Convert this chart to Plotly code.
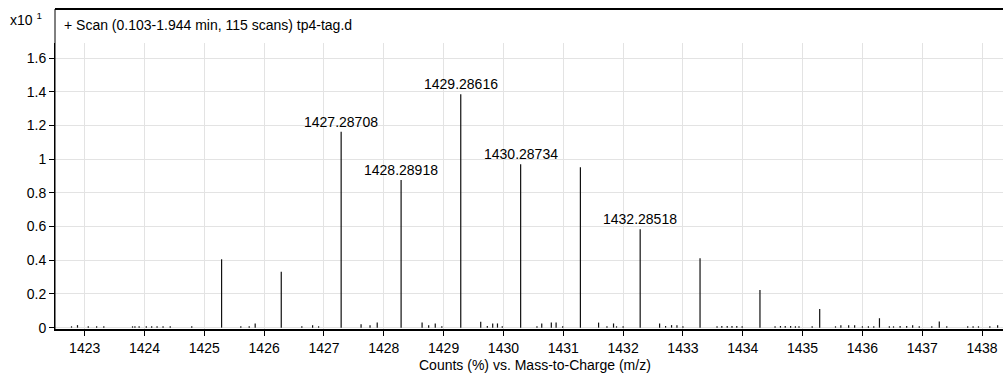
import plotly.graph_objects as go

# Labelled isotope peaks (m/z, intensity in units of 10^1 counts %)
labeled_mz = [1427.28708, 1428.28918, 1429.28616, 1430.28734, 1432.28518]
labeled_int = [1.163, 0.877, 1.385, 0.970, 0.584]

# Other major peaks without labels
other_mz = [1425.2885, 1426.2860, 1431.2862, 1433.2860, 1434.2875, 1435.2860, 1436.2850, 1437.2850]
other_int = [0.406, 0.332, 0.952, 0.412, 0.224, 0.111, 0.056, 0.036]

# Baseline noise peaks
noise_mz = [1422.78, 1422.88, 1423.06, 1423.20, 1423.32, 1423.80, 1423.84, 1423.91,
            1424.03, 1424.12, 1424.21, 1424.31, 1424.43, 1424.79, 1425.61, 1425.75,
            1425.85, 1426.63, 1426.81, 1426.91, 1427.62, 1427.77, 1427.89, 1428.64,
            1428.75, 1428.86, 1428.97, 1429.62, 1429.73, 1429.82, 1429.90, 1429.98,
            1430.56, 1430.64, 1430.80, 1430.88, 1430.99, 1431.59, 1431.73, 1431.84,
            1431.89, 1432.00, 1432.61, 1432.71, 1432.81, 1432.90, 1433.00, 1433.57,
            1433.65, 1433.74, 1433.82, 1433.90, 1433.99, 1434.54, 1434.63, 1434.71,
            1434.80, 1434.88, 1434.94, 1435.16, 1435.55, 1435.64, 1435.77, 1435.87,
            1436.00, 1436.10, 1436.19, 1436.45, 1436.52, 1436.63, 1436.74, 1436.84,
            1436.95, 1437.16, 1437.41, 1437.76, 1437.85, 1437.94, 1438.13, 1438.26]
noise_int = [0.008, 0.015, 0.008, 0.008, 0.008, 0.008, 0.008, 0.008,
             0.008, 0.008, 0.008, 0.008, 0.008, 0.008, 0.008, 0.008,
             0.025, 0.008, 0.015, 0.008, 0.020, 0.015, 0.030, 0.030,
             0.015, 0.025, 0.008, 0.035, 0.010, 0.025, 0.025, 0.008,
             0.008, 0.025, 0.030, 0.030, 0.008, 0.030, 0.008, 0.025,
             0.008, 0.008, 0.025, 0.010, 0.015, 0.015, 0.008, 0.008,
             0.010, 0.010, 0.010, 0.010, 0.008, 0.008, 0.010, 0.010,
             0.010, 0.008, 0.008, 0.008, 0.008, 0.015, 0.015, 0.015,
             0.008, 0.008, 0.008, 0.008, 0.008, 0.010, 0.010, 0.015,
             0.008, 0.008, 0.008, 0.008, 0.008, 0.008, 0.008, 0.015]

x_ticks = list(range(1423, 1439))
y_ticks = [0, 0.2, 0.4, 0.6, 0.8, 1.0, 1.2, 1.4, 1.6]
y_tick_text = ["0", "0.2", "0.4", "0.6", "0.8", "1", "1.2", "1.4", "1.6"]

title_text = "+ Scan (0.103-1.944 min, 115 scans) tp4-tag.d"
x_title = "Counts (%) vs. Mass-to-Charge (m/z)"

FONT = "Liberation Sans, Arial, sans-serif"
W, H = 1003, 374
L, R, T, B = 55, 0, 43, 45
PW, PH = W - L - R, H - T - B


def px(xp):
    return (xp - L) / PW


def py(yp):
    return (H - B - yp) / PH


def sticks(xs, ys):
    sx, sy = [], []
    for x, y in zip(xs, ys):
        sx += [x, x, None]
        sy += [0, y, None]
    return sx, sy


all_mz = labeled_mz + other_mz + noise_mz
all_int = labeled_int + other_int + noise_int
sx, sy = sticks(all_mz, all_int)

fig = go.Figure()
fig.add_trace(go.Scatter(x=sx, y=sy, mode="lines",
                         line=dict(color="#111111", width=1.2),
                         hoverinfo="skip", showlegend=False))

annotations = []
for m, v in zip(labeled_mz, labeled_int):
    annotations.append(dict(x=m, y=v, xref="x", yref="y", text=f"{m:.5f}",
                            showarrow=False, xanchor="center", yanchor="bottom",
                            yshift=0, font=dict(family=FONT, size=14, color="#000")))

annotations += [
    dict(x=px(62), y=py(25), xref="paper", yref="paper", text=title_text,
         showarrow=False, xanchor="left", yanchor="middle",
         font=dict(family=FONT, size=14, color="#000")),
    dict(x=px(44), y=py(19), xref="paper", yref="paper", text="x10 <sup>1</sup>",
         showarrow=False, xanchor="right", yanchor="middle",
         font=dict(family=FONT, size=14, color="#000")),
    dict(x=px(535), y=py(365), xref="paper", yref="paper", text=x_title,
         showarrow=False, xanchor="center", yanchor="middle",
         font=dict(family=FONT, size=14, color="#000")),
]

shapes = [
    # frame around the header row above the plot
    dict(type="line", xref="paper", yref="paper", x0=0, x1=1, y0=py(9), y1=py(9),
         line=dict(color="#000", width=2)),
    dict(type="line", xref="paper", yref="paper", x0=0, x1=0, y0=0, y1=py(9),
         line=dict(color="#000", width=1)),
]

fig.update_layout(
    width=W, height=H,
    margin=dict(l=L, r=R, t=T, b=B, pad=0),
    paper_bgcolor="white", plot_bgcolor="white",
    showlegend=False,
    annotations=annotations,
    shapes=shapes,
    font=dict(family=FONT, size=14, color="#000"),
)

fig.update_xaxes(
    range=[1422.504, 1438.35],
    tickvals=x_ticks, ticktext=[str(t) for t in x_ticks],
    ticks="outside", ticklen=5, tickcolor="#000", tickwidth=1,
    showgrid=True, gridcolor="#e3e3e3", gridwidth=1,
    showline=True, linecolor="#000", linewidth=2,
    zeroline=False,
    tickfont=dict(family=FONT, size=14, color="#000"),
)
fig.update_yaxes(
    range=[-0.008, 1.69],
    tickvals=y_ticks, ticktext=y_tick_text,
    ticks="outside", ticklen=5, tickcolor="#000", tickwidth=1,
    showgrid=True, gridcolor="#e3e3e3", gridwidth=1,
    showline=True, linecolor="#000", linewidth=1,
    zeroline=False,
    tickfont=dict(family=FONT, size=14, color="#000"),
)

fig.write_html("out.html")
